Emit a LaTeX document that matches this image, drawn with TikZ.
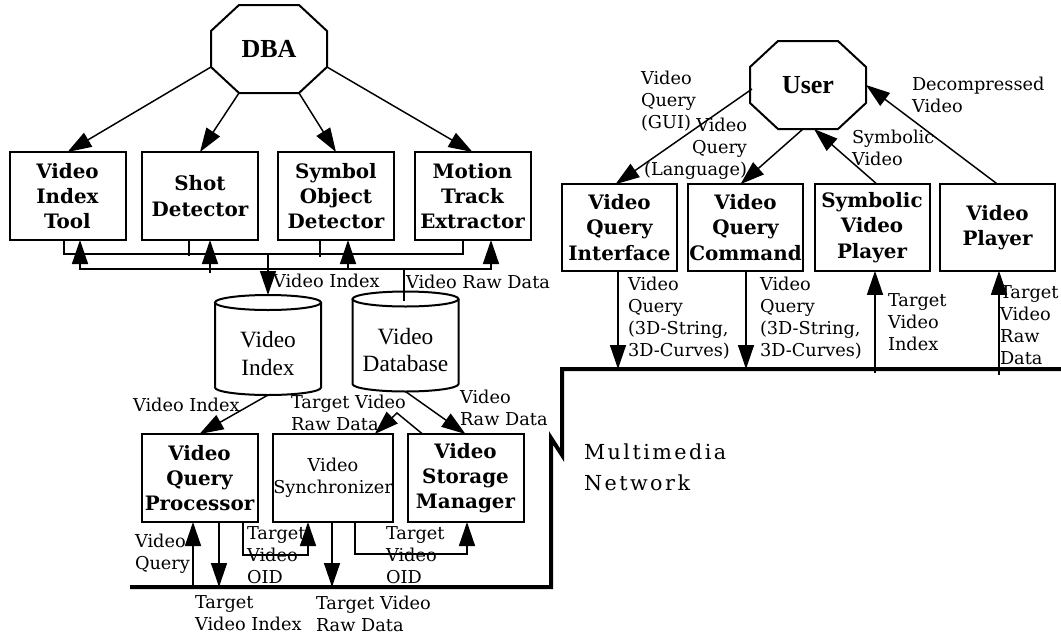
\documentclass[tikz,border=0pt]{standalone}
\usepackage{fontspec}
\setmainfont{DejaVu Serif}
\newfontfamily\romanfont{Liberation Serif}
\newfontfamily\spacedfont[LetterSpace=12]{DejaVu Serif}
\usetikzlibrary{arrows.meta,calc}

% octagon drawn around an (invisible) rectangular node
\newcommand\drawocto[1]{%
  \draw[outline,line join=miter]
    ($(#1.north west)+(28,0)$) -- ($(#1.north east)+(-28,0)$) --
    ($(#1.north east)+(0,26)$) -- ($(#1.south east)+(0,-26)$) --
    ($(#1.south east)+(-28,0)$) -- ($(#1.south west)+(28,0)$) --
    ($(#1.south west)+(0,-26)$) -- ($(#1.north west)+(0,26)$) -- cycle;}

% database cylinder drawn around an (invisible) rectangular node
\newcommand\drawcyl[1]{%
  \draw[outline] ($(#1.north)+(0,7.5)$) ellipse [x radius=53, y radius=7.5];
  \draw[outline] ($(#1.north west)+(0,7.5)$) -- ($(#1.south west)+(0,-7.5)$)
    arc[start angle=180, end angle=0, x radius=53, y radius=7.5]
    -- ($(#1.north east)+(0,7.5)$);}

\tikzset{
  every node/.style={inner sep=0pt, outer sep=0pt},
  wire/.style={line width=1.1pt},
  arr/.style={wire, -{Triangle[length=18pt,width=12pt]}},
  net/.style={line width=3pt, line join=miter},
  outline/.style={line width=1.5pt},
  proc/.style={draw, outline, minimum width=87pt, minimum height=66pt,
    align=center, font=\fontsize{14.9}{19}\selectfont\bfseries},
  procr/.style={proc, minimum width=86.25pt, minimum height=65pt},
  actor/.style={minimum width=87pt, minimum height=66pt,
    font=\romanfont\fontsize{19.5}{22}\selectfont\bfseries},
  store/.style={minimum width=79.5pt, minimum height=75pt},
  storetext/.style={align=center, font=\romanfont\fontsize{17.5}{20.3}\selectfont},
  lbl/.style={align=left, font=\fontsize{13.3}{16.5}\selectfont},
  netlbl/.style={align=left, font=\spacedfont\fontsize{15.5}{23}\selectfont},
}

\begin{document}
\begin{tikzpicture}[x=0.75pt,y=-0.75pt]
\path[fill=white,use as bounding box] (0,0) rectangle (1061,636);

% ---------------- indexing side ----------------
\node[actor] (dba) at (269,49) {DBA};
\drawocto{dba}

\node[proc] (vit)  at (67.5,196) {Video\\Index\\Tool};
\node[proc] (shot) at (200,196)  {Shot\\Detector};
\node[proc] (sod)  at (336,196)  {Symbol\\Object\\Detector};
\node[proc] (mte)  at (472.5,196) {Motion\\Track\\Extractor};

\draw[arr] ($(dba.south west)+(0,-26)$) -- (vit.north);
\draw[arr] ($(dba.south west)+(28,0)$)  -- (shot.north);
\draw[arr] ($(dba.south east)+(-28,0)$) -- (sod.north);
\draw[arr] ($(dba.south east)+(0,-26)$) -- (mte.north);

% storage
\node[store] (vidx) at (268,345) {};
\drawcyl{vidx}
\node[storetext] (vidx-text) at ($(vidx)+(0,8.5)$) {Video\\Index};
\node[store] (vdb) at (405.5,341.5) {};
\drawcyl{vdb}
\node[storetext] (vdb-text) at ($(vdb)+(0,8.5)$) {Video\\Database};

% index bus (upper) and raw data bus (lower)
\coordinate (vidtap) at (268,254);
\coordinate (rawtap) at (404,269);
\draw[wire] ($(vit.south)+(-3.5,0)$) |- (vidtap) -| ($(mte.south)+(-9.5,0)$);
\draw[wire] ($(shot.south)+(-11,0)$) -- ++(0,16);
\draw[wire] ($(sod.south)+(-16,0)$) -- ++(0,17);
\draw[arr] (vidtap) -- (vidx.north);
\draw[arr] (rawtap) -| ($(vit.south)+(12.5,0)$);
\draw[arr] (rawtap) -| ($(mte.south)+(18.5,0)$);
\draw[arr] ($(shot.south)+(10,33)$) -- ($(shot.south)+(10,0)$);
\draw[arr] ($(sod.south)+(12,29)$) -- ($(sod.south)+(12,0)$);
\draw[wire] (rawtap) -- ++(0,32);

\node[lbl, anchor=west] (l-vi1)  at (273,281) {Video Index};
\node[lbl, anchor=west] (l-vrd1) at (406,282) {Video Raw Data};

% ---------------- query processing ----------------
\node[proc] (vqp) at (199.5,478) {Video\\Query\\Processor};
\node[proc, font=\fontsize{13.3}{16.5}\selectfont] (vsync) at (333,478) {Video\\Synchronizer};
\node[proc] (vsm) at (465.5,478) {Video\\Storage\\Manager};

\coordinate (peak) at (397,413);
\draw[arr] (vidx.south) -- (vqp.north);
\draw[arr] (vdb.south) -- (vsm.north);
\draw[arr] ($(vsm.north west)+(15,0)$) -- (peak) -- ($(vsync.north east)+(-18,0)$);

\node[lbl, anchor=west] (l-vi2)   at (133,405)   {Video Index};
\node[lbl, anchor=west] (l-tvrd1) at (291,412.5) {Target Video\\Raw Data};
\node[lbl, anchor=west] (l-vrd2)  at (460,408)   {Video\\Raw Data};

% ---------------- network ----------------
\coordinate (netL) at (130,587);
\coordinate (netA) at (551,587);
\coordinate (netB) at (551,438);
\coordinate (netC) at (562,455);
\coordinate (netD) at (562,369);
\coordinate (netR) at (1061,369);
\draw[net] (netL) -- (netA) -- (netB) -- (netC) -- (netD) -- (netR);
\node[netlbl, anchor=west] (l-net) at (584,467.5) {Multimedia\\Network};

% links between the query side and the network
\coordinate (vqIn)   at (193,587);
\coordinate (tviOut) at (219,587);
\coordinate (oid1)   at (243,555);
\coordinate (oid1b)  at (308,555);
\coordinate (rawOut) at (332,587);
\coordinate (oid2)   at (355,554);
\coordinate (oid2b)  at (467,554);
\draw[arr] (vqIn) -- (vqIn |- vqp.south);
\draw[arr] (tviOut |- vqp.south) -- (tviOut);
\draw[arr] (oid1 |- vqp.south) -- (oid1) -- (oid1b) -- (oid1b |- vsync.south);
\draw[arr] (rawOut |- vsync.south) -- (rawOut);
\draw[arr] (oid2 |- vsync.south) -- (oid2) -- (oid2b) -- (oid2b |- vsm.south);

\node[lbl, anchor=west] (l-vq)    at (135,553.5) {Video\\Query};
\node[lbl, anchor=west] (l-tvi)   at (195,613.5) {Target\\Video Index};
\node[lbl, anchor=west] (l-oid1)  at (247,555)   {Target\\Video\\OID};
\node[lbl, anchor=west] (l-tvrd2) at (316,613.5) {Target Video\\Raw Data};
\node[lbl, anchor=west] (l-oid2)  at (386,555)   {Target\\Video\\OID};

% ---------------- user side ----------------
\node[actor] (user) at (808,85) {User};
\drawocto{user}

\node[procr] (vqi) at (619.5,227.5) {Video\\Query\\Interface};
\node[procr] (vqc) at (745.5,227.5) {Video\\Query\\Command};
\node[procr] (svp) at (872,227.5)   {Symbolic\\Video\\Player};
\node[procr] (vp)  at (997.5,227.5) {Video\\Player};

\draw[arr] ($(user.west)+(2,4)$)   -- ($(vqi.north)+(-4,0)$);
\draw[arr] ($(user.south)+(-5,0)$) -- ($(vqc.north)+(-5,0)$);
\draw[arr] ($(svp.north)+(5,0)$)   -- ($(user.south)+(6,0)$);
\draw[arr] (vp.north) -- (user.east);

\node[lbl, anchor=west] (l-gui)  at (641,101) {Video\\Query\\(GUI)};
\node[lbl, anchor=east, align=right] (l-lang) at (747,149) {Video\\Query\\(Language)};
\node[lbl, anchor=west] (l-sym)  at (852,148)  {Symbolic\\Video};
\node[lbl, anchor=west] (l-dec)  at (912,94.5) {Decompressed\\Video};

\coordinate (q1) at (618,369);
\coordinate (q2) at (746,369);
\coordinate (t1) at (875,373);
\coordinate (t2) at (999,375);
\draw[arr] (q1 |- vqi.south) -- (q1);
\draw[arr] (q2 |- vqc.south) -- (q2);
\draw[arr] (t1) -- (t1 |- svp.south);
\draw[arr] (t2) -- (t2 |- vp.south);

\node[lbl, anchor=west] (l-q3d1)  at (628,318)  {Video\\Query\\(3D-String,\\3D-Curves)};
\node[lbl, anchor=west] (l-q3d2)  at (760,318)  {Video\\Query\\(3D-String,\\3D-Curves)};
\node[lbl, anchor=west] (l-tvi2)  at (888,322)  {Target\\Video\\Index};
\node[lbl, anchor=west] (l-tvrd3) at (1000,325) {Target\\Video\\Raw\\Data};
\end{tikzpicture}
\end{document}
